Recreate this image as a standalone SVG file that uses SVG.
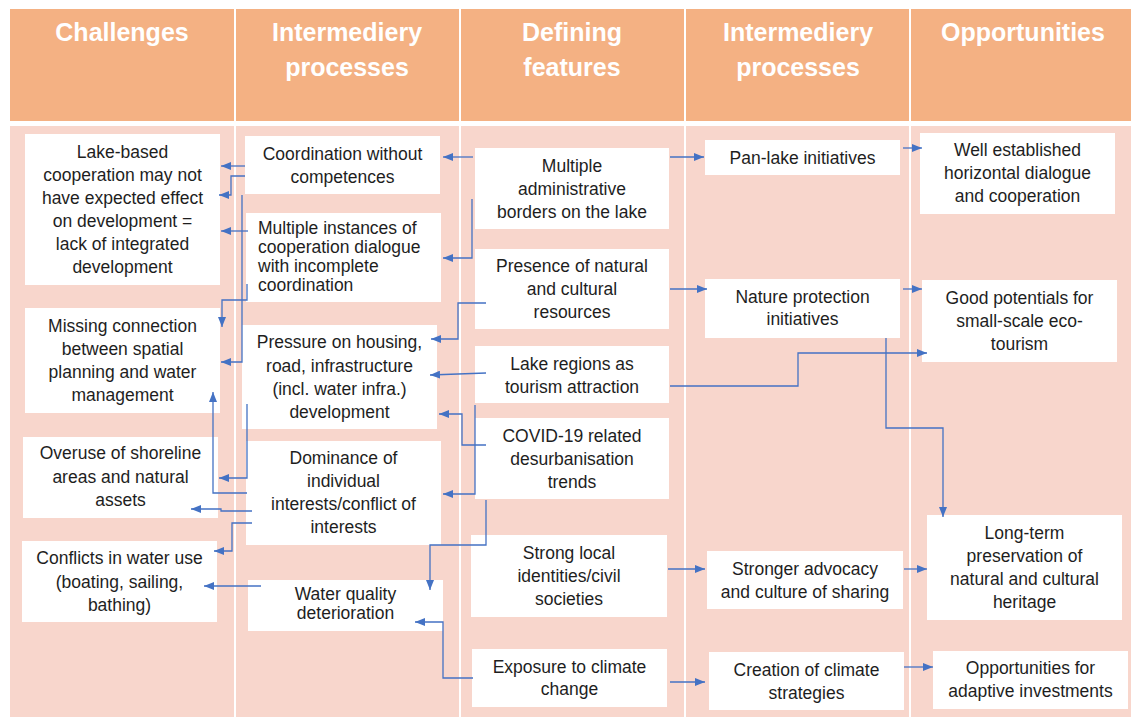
<svg xmlns="http://www.w3.org/2000/svg" width="1131" height="717" viewBox="0 0 1131 717">
<defs>
<style>
.hd{fill:#F4B183}
.bd{fill:#F8D6CC}
.sep{stroke:#FFFFFF;stroke-width:2}
.ht{font-family:"Liberation Sans",Arial,sans-serif;font-weight:bold;font-size:25px;fill:#FFFFFF;text-anchor:middle}
.bx{fill:#FFFFFF}
.t{font-family:"Liberation Sans",Arial,sans-serif;font-size:17.5px;fill:#1E1E1E;text-anchor:middle}
.tl{font-family:"Liberation Sans",Arial,sans-serif;font-size:17.5px;fill:#1E1E1E;text-anchor:start}
.c{fill:none;stroke:#4472C4;stroke-width:1.3;marker-end:url(#ah)}
</style>
<marker id="ah" markerUnits="userSpaceOnUse" markerWidth="10" markerHeight="8" refX="10" refY="4" orient="auto" viewBox="0 0 10 8"><path d="M0,0L10,4L0,8z" fill="#4472C4"/></marker>
</defs>
<rect x="0" y="0" width="1131" height="717" fill="#FFFFFF"/>
<g id="background">
<rect class="hd" x="10" y="9" width="1121" height="112"/>
<rect class="bd" x="10" y="126" width="1121" height="591"/>
<line class="sep" x1="235" y1="9" x2="235" y2="717"/>
<line class="sep" x1="460" y1="9" x2="460" y2="717"/>
<line class="sep" x1="685" y1="9" x2="685" y2="717"/>
<line class="sep" x1="910" y1="9" x2="910" y2="717"/>
</g>
<g id="headers">
<text class="ht" x="122" y="41">Challenges</text>
<text class="ht" x="347" y="41">Intermediery</text>
<text class="ht" x="347" y="76">processes</text>
<text class="ht" x="572" y="41">Defining</text>
<text class="ht" x="572" y="76">features</text>
<text class="ht" x="798" y="41">Intermediery</text>
<text class="ht" x="798" y="76">processes</text>
<text class="ht" x="1023" y="41">Opportunities</text>
</g>
<g id="A1"><rect class="bx" x="25" y="134" width="195" height="151"/>
<text class="t" x="122.5" y="158">Lake-based</text><text class="t" x="122.5" y="181">cooperation may not</text><text class="t" x="122.5" y="204">have expected effect</text><text class="t" x="122.5" y="227">on development =</text><text class="t" x="122.5" y="250">lack of integrated</text><text class="t" x="122.5" y="273">development</text></g>
<g id="A2"><rect class="bx" x="25" y="308" width="195" height="105"/>
<text class="t" x="122.5" y="332">Missing connection</text><text class="t" x="122.5" y="355">between spatial</text><text class="t" x="122.5" y="378">planning and water</text><text class="t" x="122.5" y="401">management</text></g>
<g id="A3"><rect class="bx" x="23" y="437" width="195" height="81"/>
<text class="t" x="120.5" y="459">Overuse of shoreline</text><text class="t" x="120.5" y="482.5">areas and natural</text><text class="t" x="120.5" y="506">assets</text></g>
<g id="A4"><rect class="bx" x="22" y="541" width="195" height="81"/>
<text class="t" x="119.5" y="564">Conflicts in water use</text><text class="t" x="119.5" y="588">(boating, sailing,</text><text class="t" x="119.5" y="611">bathing)</text></g>
<g id="B1"><rect class="bx" x="245" y="136" width="195" height="58"/>
<text class="t" x="342.5" y="160">Coordination without</text><text class="t" x="342.5" y="183">competences</text></g>
<g id="B2"><rect class="bx" x="246" y="213" width="195" height="89"/>
<text class="tl" x="258" y="234">Multiple instances of</text><text class="tl" x="258" y="253">cooperation dialogue</text><text class="tl" x="258" y="272">with incomplete</text><text class="tl" x="258" y="291">coordination</text></g>
<g id="B3"><rect class="bx" x="242" y="325" width="195" height="104"/>
<text class="t" x="339.5" y="348">Pressure on housing,</text><text class="t" x="339.5" y="372">road, infrastructure</text><text class="t" x="339.5" y="395">(incl. water infra.)</text><text class="t" x="339.5" y="418">development</text></g>
<g id="B4"><rect class="bx" x="246" y="441" width="195" height="104"/>
<text class="t" x="343.5" y="464">Dominance of</text><text class="t" x="343.5" y="487">individual</text><text class="t" x="343.5" y="510">interests/conflict of</text><text class="t" x="343.5" y="533">interests</text></g>
<g id="B5"><rect class="bx" x="248" y="580" width="195" height="51"/>
<text class="t" x="345.5" y="600">Water quality</text><text class="t" x="345.5" y="619">deterioration</text></g>
<g id="C1"><rect class="bx" x="475" y="148" width="194" height="81"/>
<text class="t" x="572" y="172">Multiple</text><text class="t" x="572" y="195">administrative</text><text class="t" x="572" y="218">borders on the lake</text></g>
<g id="C2"><rect class="bx" x="475" y="249" width="194" height="80"/>
<text class="t" x="572" y="272">Presence of natural</text><text class="t" x="572" y="295">and cultural</text><text class="t" x="572" y="318">resources</text></g>
<g id="C3"><rect class="bx" x="475" y="346" width="194" height="57"/>
<text class="t" x="572" y="370">Lake regions as</text><text class="t" x="572" y="393">tourism attraction</text></g>
<g id="C4"><rect class="bx" x="475" y="418" width="194" height="81"/>
<text class="t" x="572" y="442">COVID-19 related</text><text class="t" x="572" y="465">desurbanisation</text><text class="t" x="572" y="488">trends</text></g>
<g id="C5"><rect class="bx" x="471" y="535" width="196" height="82"/>
<text class="t" x="569" y="559">Strong local</text><text class="t" x="569" y="582">identities/civil</text><text class="t" x="569" y="605">societies</text></g>
<g id="C6"><rect class="bx" x="472" y="649" width="195" height="58"/>
<text class="t" x="569.5" y="673">Exposure to climate</text><text class="t" x="569.5" y="695">change</text></g>
<g id="D1"><rect class="bx" x="705" y="140" width="195" height="35"/>
<text class="t" x="802.5" y="164">Pan-lake initiatives</text></g>
<g id="D2"><rect class="bx" x="705" y="279" width="195" height="59"/>
<text class="t" x="802.5" y="303">Nature protection</text><text class="t" x="802.5" y="325">initiatives</text></g>
<g id="D3"><rect class="bx" x="707" y="551" width="196" height="58"/>
<text class="t" x="805" y="575">Stronger advocacy</text><text class="t" x="805" y="598">and culture of sharing</text></g>
<g id="D4"><rect class="bx" x="709" y="652" width="195" height="58"/>
<text class="t" x="806.5" y="676">Creation of climate</text><text class="t" x="806.5" y="699">strategies</text></g>
<g id="E1"><rect class="bx" x="920" y="133" width="195" height="81"/>
<text class="t" x="1017.5" y="156">Well established</text><text class="t" x="1017.5" y="179">horizontal dialogue</text><text class="t" x="1017.5" y="202">and cooperation</text></g>
<g id="E2"><rect class="bx" x="922" y="280" width="195" height="82"/>
<text class="t" x="1019.5" y="304">Good potentials for</text><text class="t" x="1019.5" y="327">small-scale eco-</text><text class="t" x="1019.5" y="350">tourism</text></g>
<g id="E3"><rect class="bx" x="927" y="515" width="195" height="105"/>
<text class="t" x="1024.5" y="539">Long-term</text><text class="t" x="1024.5" y="562">preservation of</text><text class="t" x="1024.5" y="585">natural and cultural</text><text class="t" x="1024.5" y="608">heritage</text></g>
<g id="E4"><rect class="bx" x="933" y="651" width="195" height="58"/>
<text class="t" x="1030.5" y="674">Opportunities for</text><text class="t" x="1030.5" y="697">adaptive investments</text></g>
<g id="connectors">
<polyline class="c" points="245,166 221,166"/>
<polyline class="c" points="245,176 231,176 231,195 219,195"/>
<polyline class="c" points="242,195 242,362 221,362"/>
<polyline class="c" points="248,231 221,231"/>
<polyline class="c" points="247,284 247,300 222,300 222,327"/>
<polyline class="c" points="247,404 247,478 219,478"/>
<polyline class="c" points="247,493 213,493 213,392"/>
<polyline class="c" points="252,511 221,511 221,509 191,509"/>
<polyline class="c" points="252,523 232,523 232,551 214,551"/>
<polyline class="c" points="261,586 204,586"/>
<polyline class="c" points="473,157 443,157"/>
<polyline class="c" points="472,199 472,258 443,258"/>
<polyline class="c" points="486,303 458,303 458,339 431,339"/>
<polyline class="c" points="486,373 430,375"/>
<polyline class="c" points="486,445 462,445 462,414 439,414"/>
<polyline class="c" points="475,405 475,494 443,494"/>
<polyline class="c" points="486,500 486,545 430,545 430,590"/>
<polyline class="c" points="473,678 443,678 443,622 415,622"/>
<polyline class="c" points="670,157 704,157"/>
<polyline class="c" points="670,289 707,289"/>
<polyline class="c" points="670,386 798,386 798,353 927,353"/>
<polyline class="c" points="886,338 886,428 943,428 943,517"/>
<polyline class="c" points="903,148 922,148"/>
<polyline class="c" points="903,289 922,289"/>
<polyline class="c" points="668,569 705,569"/>
<polyline class="c" points="904,569 927,569"/>
<polyline class="c" points="670,682 705,682"/>
<polyline class="c" points="904,667 933,667"/>
</g>
</svg>
